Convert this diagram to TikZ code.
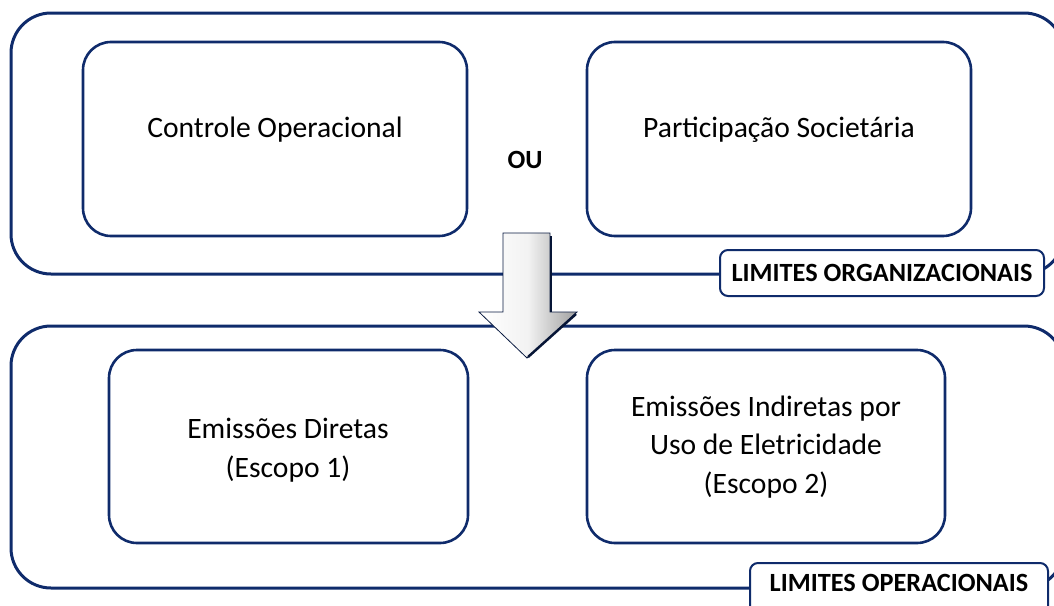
\documentclass[tikz,border=0pt]{standalone}
\usepackage{fontspec}
\setmainfont{Carlito}
\definecolor{navy}{HTML}{0F2B6B}
\tikzset{
  frame/.style={draw=navy, line width=3pt, rounded corners=40pt},
  inbox/.style={draw=navy, line width=2.6pt, rounded corners=28pt},
  txt/.style={align=center, font=\fontsize{29.6}{38.5}\selectfont},
  lblbox/.style={draw=navy, line width=2pt, rounded corners=8pt, fill=white},
  lbltxt/.style={font=\fontsize{26.3}{30}\selectfont\bfseries, inner sep=0pt},
}
\begin{document}
\begin{tikzpicture}[x=1pt,y=-1pt]
\useasboundingbox (0,0) rectangle (1054,605);
\clip (0,0) rectangle (1054,605);
% outer frames
\draw[frame] (11,13) rectangle (1064,274);
\draw[frame] (11,326) rectangle (1064,588);
% inner boxes
\draw[inbox] (83,42) rectangle (467,236);
\draw[inbox] (587,42) rectangle (971,236);
\draw[inbox] (109,350) rectangle (468,543);
\draw[inbox] (587,350) rectangle (945,543);
\node[txt] (co) at (275,130) {Controle Operacional};
\node[txt] (ps) at (779,130) {Participação Societária};
\node[font=\fontsize{26.3}{30}\selectfont\bfseries] (ou) at (525,160) {OU};
\node[txt] (ed) at (288,450) {Emissões Diretas\\(Escopo 1)};
\node[txt] (ei) at (766,447) {Emissões Indiretas por\\Uso de Eletricidade\\(Escopo 2)};
% labels
\draw[lblbox] (720,250) rectangle (1044,296);
\node[lbltxt] (lo) at (882,273) {LIMITES ORGANIZACIONAIS};
\draw[lblbox] (750,563) rectangle (1048,630);
\node[lbltxt] (lop) at (899,583) {LIMITES OPERACIONAIS};
% arrow
\path[left color=white, right color=gray!75, middle color=white!90!gray]
  (503,233) -- (550,233) -- (550,312) -- (577,312) -- (527,358) -- (479,312) -- (503,312) -- cycle;
\draw[line width=0.8pt, draw=navy!60!black]
  (503,233) -- (550,233) -- (550,312) -- (577,312) -- (527,358) -- (479,312) -- (503,312) -- cycle;
\draw[line width=2.5pt, draw=navy!50!black] (551,236) -- (551,312);
\draw[line width=2.5pt, draw=navy!50!black] (576,314) -- (528,357);
\end{tikzpicture}
\end{document}
